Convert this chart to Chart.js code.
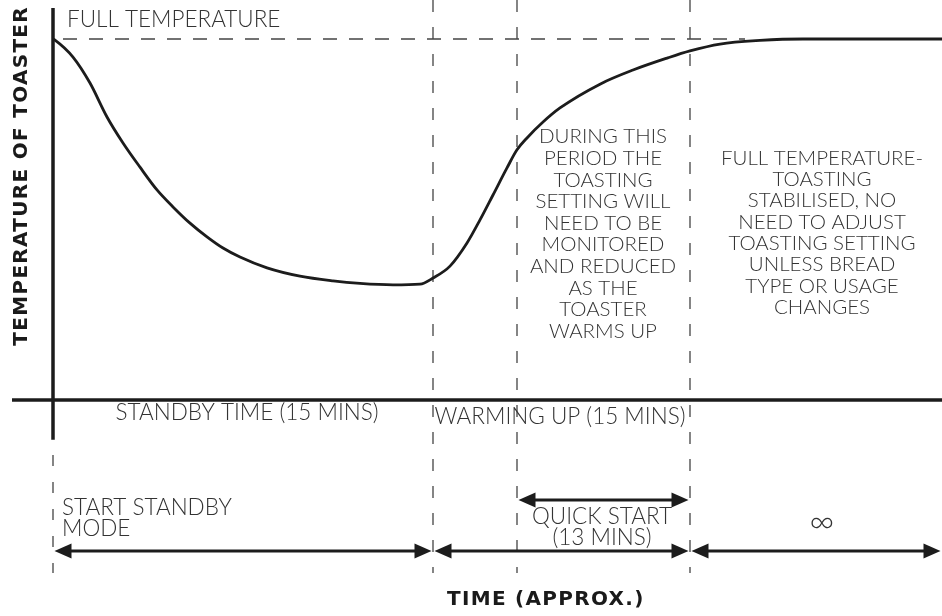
<!DOCTYPE html>
<html>
<head>
<meta charset="utf-8">
<script src="https://cdn.jsdelivr.net/npm/chart.js@4.4.1/dist/chart.umd.min.js"></script>
<style>
  html, body { margin: 0; padding: 0; background: #fff; }
  canvas { display: block; }
</style>
</head>
<body>
<canvas id="chart_toaster" width="942" height="616"></canvas>
<script>
// time in schematic units, temperature in % of full
const curveTime = [0, 0.2, 2.0, 3.7, 5.4, 7.0, 8.7, 10.4, 12.0, 13.7, 15.4, 17.0, 18.7, 21.4, 24.7, 28.0, 30.7, 34.0, 36.7, 38.0, 39.7, 41.4, 42.7, 44.0, 45.4, 46.4, 47.4, 49.0, 50.7, 54.7, 58.0, 61.4, 63.7, 66.7, 70.7, 75.0, 88.9];
const curveTemp = [100, 99.7, 95.0, 87.8, 78.4, 71.2, 64.5, 58.2, 53.5, 49.0, 45.2, 42.1, 39.6, 36.6, 34.3, 33.0, 32.3, 31.9, 32.1, 33.8, 37.1, 43.5, 49.9, 56.8, 64.3, 69.3, 72.6, 77.0, 80.9, 87.5, 91.4, 94.7, 96.7, 98.6, 99.6, 100, 100];

const fullTemp = 100;
const phaseBounds = [0, 38, 46.4, 63.7, 88.9]; // start standby, warming, quick start, stable, end
const rangeX = [-5.3, 88.9];
const rangeY = [-59.8, 110.8];

const fontLight = '"Lato", "Open Sans", sans-serif';
const fontBold = '"DejaVu Sans", "Lato", sans-serif';
const ink = '#1c1c1c';
const txt = '#333333';

function lineSet(pts, width, dash, color) {
    return {
        data: pts,
        showLine: true,
        borderColor: color || ink,
        borderWidth: width,
        borderDash: dash || [],
        pointRadius: 0,
        fill: false
    };
}

const datasets = [];
// curve
const curve = lineSet(curveTime.map((t, i) => ({ x: t, y: curveTemp[i] })), 2.8, null);
curve.cubicInterpolationMode = 'monotone';
datasets.push(curve);
// full temperature line
datasets.push(lineSet([{ x: 1, y: fullTemp }, { x: 69.2, y: fullTemp }], 1.3, [14, 12], '#444'));
// phase boundaries
datasets.push(lineSet([{ x: phaseBounds[0], y: -15.2 }, { x: phaseBounds[0], y: -47.9 }], 1.3, [11, 16], '#444'));
phaseBounds.slice(1, 4).forEach(b => {
    datasets.push(lineSet([{ x: b, y: rangeY[1] }, { x: b, y: -47.9 }], 1.3, [12, 15], '#444'));
});
// axes
datasets.push(lineSet([{ x: 0, y: 108.6 }, { x: 0, y: -11 }], 3.5, null));
datasets.push(lineSet([{ x: -4.1, y: 0 }, { x: rangeX[1], y: 0 }], 3.5, null));

const arrows = [
    { from: phaseBounds[0], to: phaseBounds[1], y: -41.8 },
    { from: phaseBounds[1], to: phaseBounds[3], y: -41.8 },
    { from: phaseBounds[3], to: phaseBounds[4], y: -41.8 },
    { from: phaseBounds[2], to: phaseBounds[3], y: -27.7 }
];

const textos = [
    { t: ['FULL TEMPERATURE'], x: 1.4, y: 105.3, align: 'left', size: 22.5 },
    { t: ['STANDBY TIME (15 MINS)'], x: 19.4, y: -3.6, size: 22.5 },
    { t: ['WARMING UP (15 MINS)'], x: 50.7, y: -4.7, size: 22.5 },
    { t: ['START STANDBY', 'MODE'], x: 0.9, y: -29.9, align: 'left', lh: 21, size: 22.5 },
    { t: ['QUICK START', '(13 MINS)'], x: 54.9, y: -32.4, lh: 21, size: 22.5 },
    { t: ['\u221E'], x: 76.9, y: -33.8, size: 34 },
    { t: ['DURING THIS', 'PERIOD THE', 'TOASTING', 'SETTING WILL', 'NEED TO BE', 'MONITORED', 'AND REDUCED', 'AS THE', 'TOASTER', 'WARMS UP'], x: 55, y: 72.9, lh: 21.6, size: 20.5 },
    { t: ['FULL TEMPERATURE-', 'TOASTING', 'STABILISED, NO', 'NEED TO ADJUST', 'TOASTING SETTING', 'UNLESS BREAD', 'TYPE OR USAGE', 'CHANGES'], x: 76.9, y: 67, lh: 21.3, size: 20.5 }
];

const dibujoExtra = {
    id: 'dibujoExtra',
    afterDatasetsDraw(chart) {
        const ctx = chart.ctx;
        const sx = chart.scales.x, sy = chart.scales.y;
        ctx.save();
        ctx.strokeStyle = ink;
        ctx.fillStyle = ink;
        ctx.lineWidth = 3;
        arrows.forEach(a => {
            const x1 = sx.getPixelForValue(a.from) + 1.5;
            const x2 = sx.getPixelForValue(a.to) - 1.5;
            const y = sy.getPixelForValue(a.y);
            const hl = 17, hw = 7.5;
            ctx.beginPath();
            ctx.moveTo(x1 + hl - 2, y);
            ctx.lineTo(x2 - hl + 2, y);
            ctx.stroke();
            ctx.beginPath();
            ctx.moveTo(x1, y); ctx.lineTo(x1 + hl, y - hw); ctx.lineTo(x1 + hl, y + hw); ctx.closePath();
            ctx.fill();
            ctx.beginPath();
            ctx.moveTo(x2, y); ctx.lineTo(x2 - hl, y - hw); ctx.lineTo(x2 - hl, y + hw); ctx.closePath();
            ctx.fill();
        });

        ctx.fillStyle = txt;
        ctx.textBaseline = 'middle';
        textos.forEach(o => {
            ctx.font = '300 ' + o.size + 'px ' + fontLight;
            ctx.textAlign = o.align || 'center';
            const x = sx.getPixelForValue(o.x);
            const y0 = sy.getPixelForValue(o.y);
            o.t.forEach((linea, i) => ctx.fillText(linea, x, y0 + i * (o.lh || 0)));
        });

        // axis titles
        ctx.fillStyle = '#1a1a1a';
        ctx.font = 'bold 20px ' + fontBold;
        ctx.letterSpacing = '1.3px';
        ctx.textAlign = 'left';
        ctx.fillText('TIME (APPROX.)', sx.getPixelForValue(39.4), sy.getPixelForValue(-55.4));
        ctx.textAlign = 'center';
        ctx.translate(sx.getPixelForValue(-3.1), sy.getPixelForValue(62.1));
        ctx.rotate(-Math.PI / 2);
        ctx.fillText('TEMPERATURE OF TOASTER', 0, 0);
        ctx.restore();
    }
};

new Chart(document.getElementById('chart_toaster').getContext('2d'), {
    type: 'scatter',
    data: { datasets: datasets },
    options: {
        responsive: false,
        animation: false,
        layout: { padding: 0 },
        plugins: { legend: { display: false }, tooltip: { enabled: false } },
        scales: {
            x: { type: 'linear', display: false, min: rangeX[0], max: rangeX[1] },
            y: { type: 'linear', display: false, min: rangeY[0], max: rangeY[1] }
        }
    },
    plugins: [dibujoExtra]
});
</script>
</body>
</html>
